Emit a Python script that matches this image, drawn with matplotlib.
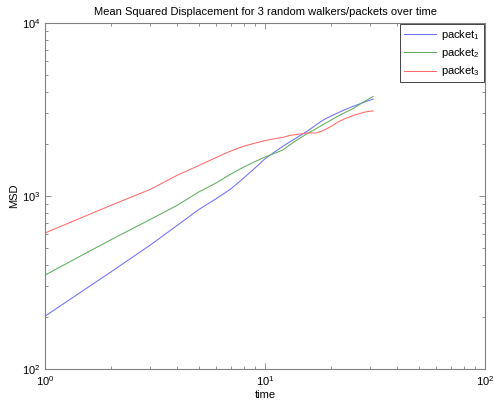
import matplotlib
matplotlib.use("Agg")
import matplotlib.pyplot as plt

plt.rcParams['font.family'] = ['Liberation Sans', 'DejaVu Sans']
plt.rcParams['mathtext.fontset'] = 'custom'
plt.rcParams['mathtext.rm'] = 'Liberation Sans'
plt.rcParams['mathtext.it'] = 'Liberation Sans'

# time lags and mean squared displacement of each packet
time = list(range(1, 32))
msd_packet1 = [202, 365, 519, 678, 835, 965, 1100, 1270, 1450, 1640,
               1790, 1930, 2060, 2180, 2300, 2430, 2570, 2700, 2810, 2900,
               2990, 3070, 3150, 3220, 3290, 3350, 3410, 3470, 3530, 3580, 3630]
msd_packet2 = [349, 560, 730, 885, 1055, 1190, 1340, 1470, 1580, 1680,
               1760, 1840, 1980, 2110, 2230, 2340, 2440, 2550, 2650, 2750,
               2850, 2940, 3030, 3110, 3190, 3290, 3390, 3490, 3580, 3670, 3760]
msd_packet3 = [611, 885, 1090, 1320, 1500, 1670, 1820, 1940, 2020, 2090,
               2140, 2180, 2240, 2270, 2300, 2320, 2310, 2360, 2440, 2530,
               2630, 2720, 2790, 2850, 2910, 2960, 3000, 3040, 3070, 3090, 3100]
labels = ['packet$_1$', 'packet$_2$', 'packet$_3$']
colors = ['#6f6fff', '#5fae5f', '#ff6a6a']

fig = plt.figure(figsize=(4.96, 4.03), dpi=100)
ax = fig.add_axes([45 / 496, 34 / 403, 440 / 496, 346 / 403])

for series, lab, col in zip([msd_packet1, msd_packet2, msd_packet3], labels, colors):
    ax.plot(time, series, color=col, lw=0.75, label=lab)

ax.set_xscale('log')
ax.set_yscale('log')
ax.set_xlim(1, 100)
ax.set_ylim(100, 10000)

edge = '#808080'
for sp in ax.spines.values():
    sp.set_color(edge)
    sp.set_linewidth(0.8)
ax.tick_params(which='both', direction='in', top=True, right=True,
               color=edge, labelsize=8, labelcolor='black')
ax.tick_params(which='major', length=4, width=0.6)
ax.tick_params(which='minor', length=2.5, width=0.6)
ax.tick_params(axis='x', pad=4)

ax.set_title('Mean Squared Displacement for 3 random walkers/packets over time',
             fontsize=8, pad=6)
ax.set_xlabel('time', fontsize=8, labelpad=1)
ax.set_ylabel('MSD', fontsize=8, labelpad=2)

leg = ax.legend(loc='upper right', fontsize=8, fancybox=False, framealpha=1,
                edgecolor='#444444', borderaxespad=0.1, handlelength=2.9,
                handletextpad=0.45, labelspacing=0.38, borderpad=0.35)
leg.get_frame().set_linewidth(0.7)

fig.savefig('out.png', dpi=100)
